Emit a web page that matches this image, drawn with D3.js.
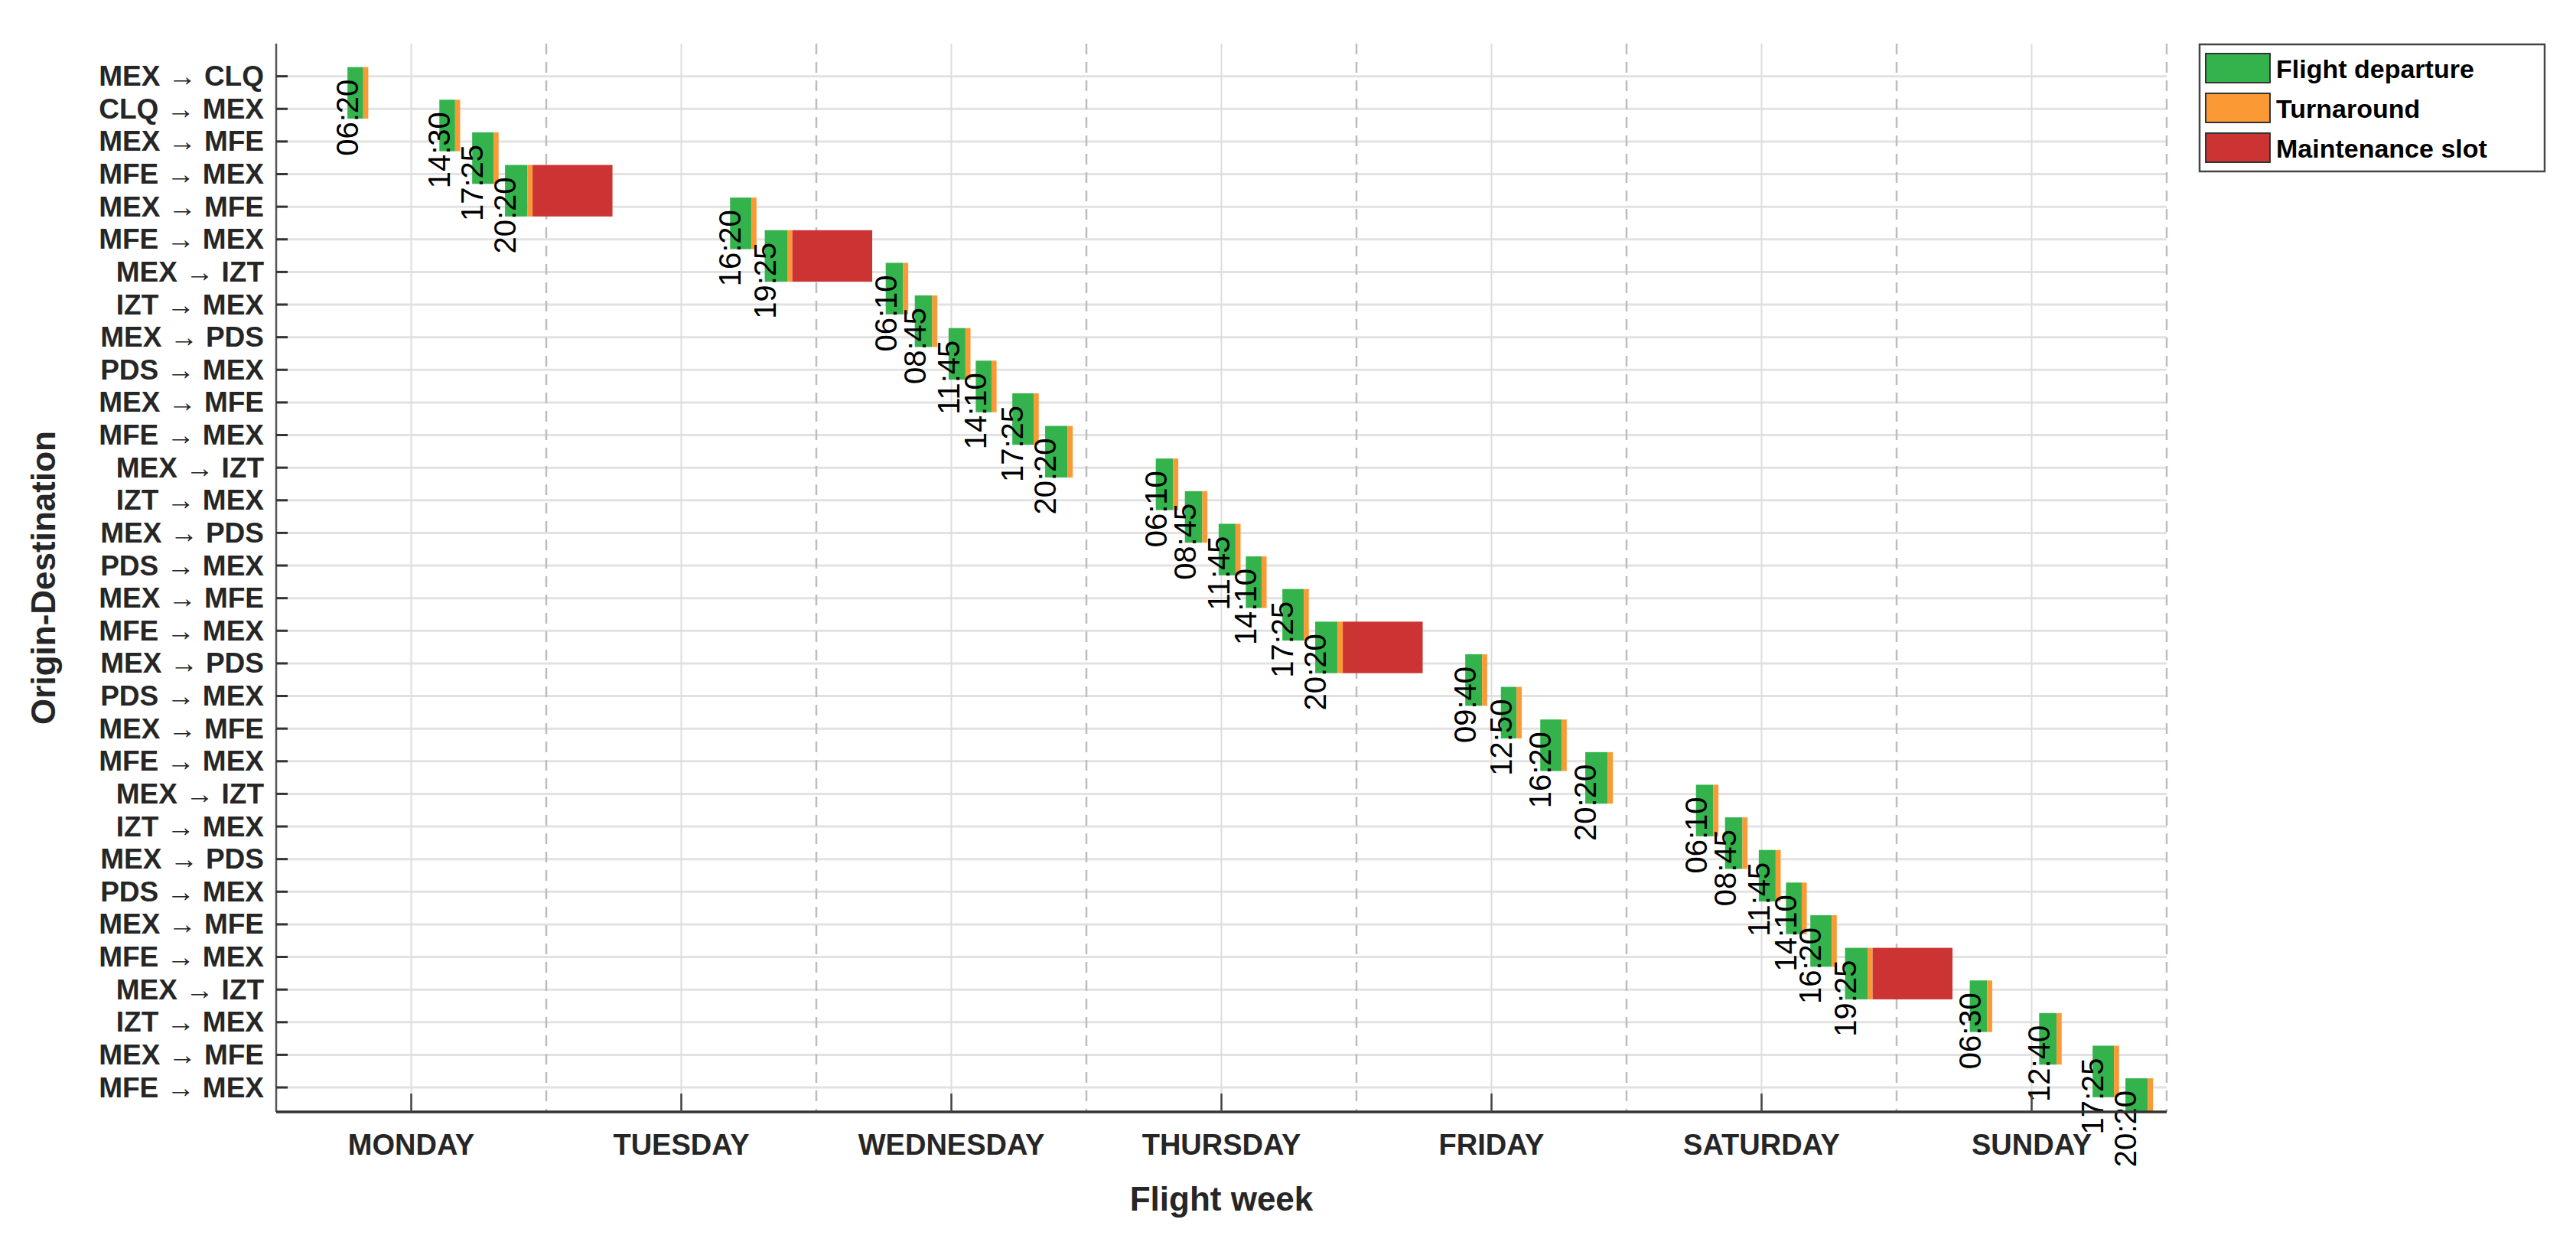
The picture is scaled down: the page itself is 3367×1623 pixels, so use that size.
<!DOCTYPE html>
<html><head><meta charset="utf-8">
<script src="https://cdn.jsdelivr.net/npm/d3@7/dist/d3.min.js"></script>
<style>body{margin:0;background:#fff}svg{display:block}</style>
</head><body>
<svg id="c" width="3367" height="1623"></svg>
<script>
const routes = ["MEX → CLQ","CLQ → MEX","MEX → MFE","MFE → MEX","MEX → MFE","MFE → MEX","MEX → IZT","IZT → MEX","MEX → PDS","PDS → MEX","MEX → MFE","MFE → MEX","MEX → IZT","IZT → MEX","MEX → PDS","PDS → MEX","MEX → MFE","MFE → MEX","MEX → PDS","PDS → MEX","MEX → MFE","MFE → MEX","MEX → IZT","IZT → MEX","MEX → PDS","PDS → MEX","MEX → MFE","MFE → MEX","MEX → IZT","IZT → MEX","MEX → MFE","MFE → MEX"];
const dayIndex = [0,0,0,0,1,1,2,2,2,2,2,2,3,3,3,3,3,3,4,4,4,4,5,5,5,5,5,5,6,6,6,6];
const depTimes = ["06:20","14:30","17:25","20:20","16:20","19:25","06:10","08:45","11:45","14:10","17:25","20:20","06:10","08:45","11:45","14:10","17:25","20:20","09:40","12:50","16:20","20:20","06:10","08:45","11:45","14:10","16:20","19:25","06:30","12:40","17:25","20:20"];
const blockHours = {"MEX → CLQ":1.4,"CLQ → MEX":1.4,"MEX → MFE":1.9,"MFE → MEX":2.0,"MEX → IZT":1.55,"IZT → MEX":1.55,"MEX → PDS":1.5,"PDS → MEX":1.4};
const turnHours = 0.45;
const maintFlights = [3,5,17,27];
const maintHours = 7.1;
const days = ["MONDAY","TUESDAY","WEDNESDAY","THURSDAY","FRIDAY","SATURDAY","SUNDAY"];
const legendItems = [["Flight departure","#34b34c"],["Turnaround","#fb9a35"],["Maintenance slot","#cc3434"]];

const svg = d3.select("#c");
const L=361, R=2832, T=57, B=1453;
const x = d3.scaleLinear().domain([0,168]).range([L,R]);
const y = d3.scaleLinear().domain([0,32.75]).range([T,B]);
const F = "'Liberation Sans', Arial, sans-serif";

// grid
const g = svg.append("g");
routes.forEach((r,i)=>{
  g.append("line").attr("x1",L).attr("x2",R).attr("y1",y(i+1)).attr("y2",y(i+1)).attr("stroke","#e2e2e2").attr("stroke-width",3);
});
days.forEach((d,i)=>{
  g.append("line").attr("x1",x(i*24+12)).attr("x2",x(i*24+12)).attr("y1",T).attr("y2",B).attr("stroke","#dddddd").attr("stroke-width",2);
  g.append("line").attr("x1",x(i*24+24)).attr("x2",x(i*24+24)).attr("y1",T).attr("y2",B).attr("stroke","#bdbdbd").attr("stroke-width",2.5).attr("stroke-dasharray","14,10");
});

// bars
const toH = s=>{const [h,m]=s.split(":").map(Number);return h+m/60;};
const bars = svg.append("g");
routes.forEach((r,i)=>{
  const s = dayIndex[i]*24+toH(depTimes[i]);
  const e1 = s+blockHours[r], e2=e1+turnHours;
  const y0 = y(i+1-0.28), y1 = Math.min(y(i+2+0.3),B);
  bars.append("rect").attr("x",x(s)).attr("y",y0).attr("width",x(e1)-x(s)).attr("height",y1-y0).attr("fill","#34b34c");
  bars.append("rect").attr("x",x(e1)).attr("y",y0).attr("width",x(e2)-x(e1)).attr("height",y1-y0).attr("fill","#fb9a35");
  if(maintFlights.includes(i)){
    bars.append("rect").attr("x",x(e2)).attr("y",y0).attr("width",x(e2+maintHours)-x(e2)).attr("height",y1-y0).attr("fill","#cc3434");
  }
  bars.append("text").attr("transform",`translate(${x(s)},${y(i+1)+4}) rotate(-90)`)
    .attr("text-anchor","end").attr("dominant-baseline","central")
    .attr("font-family",F).attr("font-size",40).attr("fill","#000").text(depTimes[i]);
});

// axes
svg.append("line").attr("x1",L).attr("x2",L).attr("y1",T).attr("y2",B).attr("stroke","#555").attr("stroke-width",2.5);
svg.append("line").attr("x1",L).attr("x2",R).attr("y1",B).attr("y2",B).attr("stroke","#333").attr("stroke-width",3.5);
routes.forEach((r,i)=>{
  svg.append("line").attr("x1",L).attr("x2",L+15).attr("y1",y(i+1)).attr("y2",y(i+1)).attr("stroke","#333").attr("stroke-width",3);
  svg.append("text").attr("x",L-16).attr("y",y(i+1)).attr("text-anchor","end").attr("dominant-baseline","central")
    .attr("font-family",F).attr("font-weight","bold").attr("font-size",37).attr("fill","#262626").text(r);
});
days.forEach((d,i)=>{
  svg.append("line").attr("x1",x(i*24+12)).attr("x2",x(i*24+12)).attr("y1",B-24).attr("y2",B).attr("stroke","#444").attr("stroke-width",2.5);
  svg.append("text").attr("x",x(i*24+12)).attr("y",B+56).attr("text-anchor","middle")
    .attr("font-family",F).attr("font-weight","bold").attr("font-size",38).attr("fill","#262626").text(d);
});
svg.append("text").attr("x",(L+R)/2).attr("y",1582).attr("text-anchor","middle")
  .attr("font-family",F).attr("font-weight","bold").attr("font-size",44).attr("fill","#262626").text("Flight week");
svg.append("text").attr("transform",`translate(72,${(T+B)/2}) rotate(-90)`).attr("text-anchor","middle")
  .attr("font-family",F).attr("font-weight","bold").attr("font-size",44).attr("fill","#262626").text("Origin-Destination");

// legend
const lg = svg.append("g");
lg.append("rect").attr("x",2875).attr("y",58).attr("width",451).attr("height",166).attr("fill","#fff").attr("stroke","#444").attr("stroke-width",2.5);
legendItems.forEach((it,i)=>{
  const yy = 70+i*52;
  lg.append("rect").attr("x",2883).attr("y",yy).attr("width",84).attr("height",38).attr("fill",it[1]).attr("stroke","#333").attr("stroke-width",2);
  lg.append("text").attr("x",2975).attr("y",yy+20).attr("dominant-baseline","central")
    .attr("font-family",F).attr("font-weight","bold").attr("font-size",34).attr("fill","#000").text(it[0]);
});
</script>
</body></html>
